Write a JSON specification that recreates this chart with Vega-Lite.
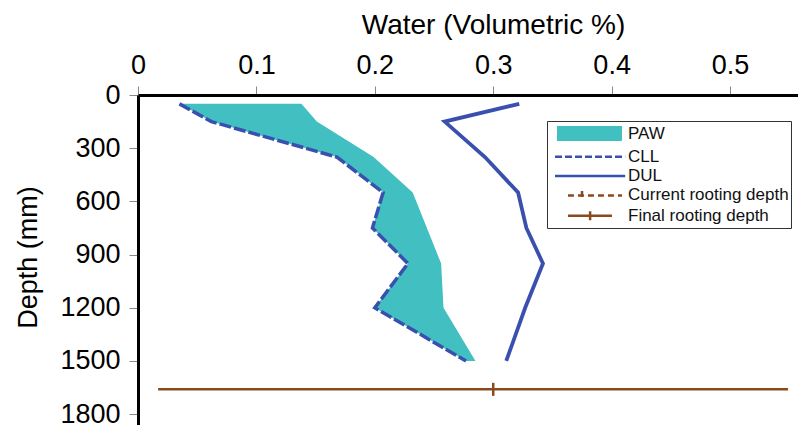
{
  "$schema": "https://vega.github.io/schema/vega-lite/v6.json",
  "width": 660,
  "height": 330,
  "autosize": {"type": "none"},
  "padding": {"left": 138, "top": 95, "right": 0, "bottom": 0},
  "config": {"view": {"stroke": null}, "font": "Liberation Sans", "axis": {"grid": false}},
  "datasets": {
    "layers": [
      {"depth": 50, "cll": 0.035, "sw": 0.138, "dul": 0.322},
      {"depth": 150, "cll": 0.062, "sw": 0.151, "dul": 0.259},
      {"depth": 350, "cll": 0.168, "sw": 0.199, "dul": 0.293},
      {"depth": 550, "cll": 0.207, "sw": 0.232, "dul": 0.321},
      {"depth": 750, "cll": 0.198, "sw": 0.244, "dul": 0.328},
      {"depth": 950, "cll": 0.228, "sw": 0.256, "dul": 0.342},
      {"depth": 1200, "cll": 0.2, "sw": 0.258, "dul": 0.327},
      {"depth": 1500, "cll": 0.277, "sw": 0.285, "dul": 0.311}
    ],
    "rooting": [
      {"series": "Final rooting depth", "depth": 1660, "x_start": 0.017, "x_end": 0.549, "root_x": 0.3}
    ],
    "legendItems": [
      {"series": "PAW"},
      {"series": "CLL"},
      {"series": "DUL"},
      {"series": "Current rooting depth"},
      {"series": "Final rooting depth"}
    ]
  },
  "layer": [
    {
      "data": {"name": "layers"},
      "mark": {"type": "area", "orient": "horizontal", "color": "#41BFC1"},
      "encoding": {
        "x": {
          "field": "cll", "type": "quantitative", "title": "Water (Volumetric %)", "stack": null,
          "scale": {"domain": [0, 0.5574], "nice": false, "zero": false},
          "axis": {
            "orient": "top", "values": [0, 0.1, 0.2, 0.3, 0.4, 0.5], "format": "~g",
            "domainColor": "#000", "domainWidth": 3, "tickColor": "#888", "tickSize": 9, "tickWidth": 1,
            "labelFontSize": 27, "labelColor": "#000", "labelPadding": 7, "labelFlush": false, "labelOverlap": false,
            "titleFontSize": 28, "titleFontWeight": "normal", "titleColor": "#000",
            "titleX": 355, "titleY": -62, "titleAlign": "center", "titleBaseline": "alphabetic"
          }
        },
        "x2": {"field": "sw"},
        "y": {
          "field": "depth", "type": "quantitative", "title": "Depth (mm)",
          "scale": {"domain": [0, 1861], "reverse": true, "nice": false, "zero": false},
          "axis": {
            "values": [0, 300, 600, 900, 1200, 1500, 1800], "format": "d",
            "domainColor": "#000", "domainWidth": 3, "tickColor": "#888", "tickSize": 9, "tickWidth": 1,
            "labelFontSize": 27, "labelColor": "#000", "labelPadding": 9, "labelFlush": false, "labelOverlap": false,
            "titleFontSize": 27, "titleFontWeight": "normal", "titleColor": "#000",
            "titleX": -102, "titleY": 162, "titleAngle": -90, "titleAlign": "center", "titleBaseline": "alphabetic"
          }
        }
      }
    },
    {
      "data": {"name": "layers"},
      "mark": {"type": "line", "stroke": "#3A50AE", "strokeWidth": 3.5, "strokeDash": [12, 3]},
      "encoding": {
        "x": {"field": "cll", "type": "quantitative", "title": "Water (Volumetric %)", "scale": {"domain": [0, 0.5574], "nice": false, "zero": false}},
        "y": {"field": "depth", "type": "quantitative", "title": "Depth (mm)", "scale": {"domain": [0, 1861], "reverse": true, "nice": false, "zero": false}},
        "order": {"field": "depth", "type": "quantitative"}
      }
    },
    {
      "data": {"name": "layers"},
      "mark": {"type": "line", "stroke": "#3A50AE", "strokeWidth": 3.8},
      "encoding": {
        "x": {"field": "dul", "type": "quantitative", "title": "Water (Volumetric %)", "scale": {"domain": [0, 0.5574], "nice": false, "zero": false}},
        "y": {"field": "depth", "type": "quantitative", "title": "Depth (mm)", "scale": {"domain": [0, 1861], "reverse": true, "nice": false, "zero": false}},
        "order": {"field": "depth", "type": "quantitative"}
      }
    },
    {
      "data": {"name": "rooting"},
      "mark": {"type": "rule", "stroke": "#8B4A1E", "strokeWidth": 2.5},
      "encoding": {
        "x": {"field": "x_start", "type": "quantitative", "title": "Water (Volumetric %)", "scale": {"domain": [0, 0.5574], "nice": false, "zero": false}},
        "x2": {"field": "x_end"},
        "y": {"field": "depth", "type": "quantitative", "title": "Depth (mm)", "scale": {"domain": [0, 1861], "reverse": true, "nice": false, "zero": false}}
      }
    },
    {
      "data": {"name": "rooting"},
      "mark": {"type": "tick", "orient": "vertical", "color": "#8B4A1E", "size": 13, "thickness": 2.5, "opacity": 1},
      "encoding": {
        "x": {"field": "root_x", "type": "quantitative", "title": "Water (Volumetric %)", "scale": {"domain": [0, 0.5574], "nice": false, "zero": false}},
        "y": {"field": "depth", "type": "quantitative", "title": "Depth (mm)", "scale": {"domain": [0, 1861], "reverse": true, "nice": false, "zero": false}}
      }
    },
    {
      "data": {"name": "legendItems"},
      "mark": {"type": "point", "filled": true, "opacity": 0},
      "encoding": {
        "x": {"datum": 0.3, "type": "quantitative", "title": "Water (Volumetric %)", "scale": {"domain": [0, 0.5574], "nice": false, "zero": false}},
        "y": {"datum": 900, "type": "quantitative", "title": "Depth (mm)", "scale": {"domain": [0, 1861], "reverse": true, "nice": false, "zero": false}},
        "fill": {
          "field": "series", "type": "nominal",
          "scale": {"domain": ["PAW", "CLL", "DUL", "Current rooting depth", "Final rooting depth"], "range": ["#41BFC1", "transparent", "transparent", "transparent", "transparent"]},
          "legend": {"orient": "none", "legendX": 409, "legendY": 26, "title": null, "symbolSize": 324, "symbolStrokeWidth": 2.5, "symbolOpacity": 1, "labelFontSize": 17, "labelFont": "Liberation Sans", "labelColor": "#111", "labelOffset": 58, "rowPadding": 0.3, "padding": 2, "strokeColor": "#333", "fillColor": "#fff", "labelLimit": 300}
        },
        "stroke": {
          "field": "series", "type": "nominal",
          "scale": {"domain": ["PAW", "CLL", "DUL", "Current rooting depth", "Final rooting depth"], "range": ["transparent", "#3A50AE", "#3A50AE", "#8B4A1E", "#8B4A1E"]},
          "legend": {"orient": "none", "legendX": 409, "legendY": 26, "title": null, "symbolSize": 324, "symbolStrokeWidth": 2.5, "symbolOpacity": 1, "labelFontSize": 17, "labelFont": "Liberation Sans", "labelColor": "#111", "labelOffset": 58, "rowPadding": 0.3, "padding": 2, "strokeColor": "#333", "fillColor": "#fff", "labelLimit": 300}
        },
        "shape": {
          "field": "series", "type": "nominal",
          "scale": {"domain": ["PAW", "CLL", "DUL", "Current rooting depth", "Final rooting depth"], "range": ["M-0.28,-0.83H6.94V0.83H-0.28Z", "M-0.5,0H7.3", "M-0.5,0H7.3", "M0.94,0H6.94M2.5,-0.5V0.5", "M0.94,0H5.83M3.4,-0.5V0.5"]},
          "legend": {"orient": "none", "legendX": 409, "legendY": 26, "title": null, "symbolSize": 324, "symbolStrokeWidth": 2.5, "symbolOpacity": 1, "labelFontSize": 17, "labelFont": "Liberation Sans", "labelColor": "#111", "labelOffset": 58, "rowPadding": 0.3, "padding": 2, "strokeColor": "#333", "fillColor": "#fff", "labelLimit": 300}
        },
        "strokeDash": {
          "field": "series", "type": "nominal",
          "scale": {"domain": ["PAW", "CLL", "DUL", "Current rooting depth", "Final rooting depth"], "range": [[1, 0], [7, 3], [1, 0], [6, 4], [1, 0]]},
          "legend": {"orient": "none", "legendX": 409, "legendY": 26, "title": null, "symbolSize": 324, "symbolStrokeWidth": 2.5, "symbolOpacity": 1, "labelFontSize": 17, "labelFont": "Liberation Sans", "labelColor": "#111", "labelOffset": 58, "rowPadding": 0.3, "padding": 2, "strokeColor": "#333", "fillColor": "#fff", "labelLimit": 300}
        }
      }
    }
  ]
}
